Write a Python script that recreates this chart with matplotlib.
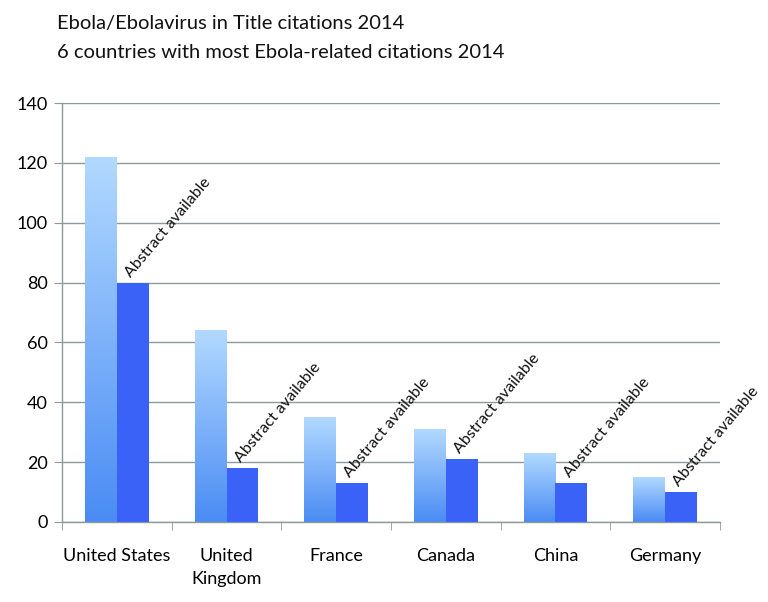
import matplotlib
matplotlib.use("Agg")
import matplotlib.pyplot as plt
import numpy as np
from matplotlib.colors import LinearSegmentedColormap

countries = ["United States", "United\nKingdom", "France", "Canada", "China", "Germany"]
total_citations = [122, 64, 35, 31, 23, 15]
abstract_available = [80, 18, 13, 21, 13, 10]
bar_label = "Abstract available"
title_lines = ["Ebola/Ebolavirus in Title citations 2014",
               "6 countries with most Ebola-related citations 2014"]
yticks = [0, 20, 40, 60, 80, 100, 120, 140]

plt.rcParams['font.family'] = ['Lato', 'DejaVu Sans']

fig = plt.figure(figsize=(7.68, 6.02), dpi=100)
ax = fig.add_axes([62/768, 1-522/602, (720-62)/768, (522-103)/602])

x = np.arange(len(countries))
w = 0.29
grad = LinearSegmentedColormap.from_list("g", ["#4a8cf4", "#b2d9ff"])
light = ax.bar(x - w/2, total_citations, w, color="none", edgecolor="none", zorder=2)
for rect in light:
    x0, y0 = rect.get_x(), rect.get_y()
    h = rect.get_height()
    img = ax.imshow(np.linspace(0, 1, 256).reshape(-1, 1), cmap=grad, aspect="auto",
                    origin="lower", extent=[x0, x0 + rect.get_width(), y0, y0 + h], zorder=2)
    img.set_clip_path(rect)
dark = ax.bar(x + w/2, abstract_available, w, color="#3a62f6", edgecolor="none", zorder=3)

for xi, v in zip(x, abstract_available):
    ax.text(xi + 0.15, v + 1.0, bar_label, rotation=50, rotation_mode="anchor",
            ha="left", va="bottom", fontsize=11.5, color="#111111", zorder=4)

ax.set_xlim(-0.5, len(countries) - 0.5)
ax.set_ylim(0, 140)
ax.set_yticks(yticks)
ax.set_yticklabels([str(t) for t in yticks], fontsize=13)
ax.set_xticks(x)
ax.set_xticklabels(countries, fontsize=13, linespacing=1.5)
ax.set_xticks(np.arange(-0.5, len(countries)), minor=True)
ax.tick_params(axis="x", which="major", length=0, pad=19)
ax.tick_params(axis="x", which="minor", length=6, color="#8c9a9a", direction="out")
ax.tick_params(axis="y", length=6, color="#8c9a9a", direction="out", pad=4)
ax.grid(axis="y", color="#8c9a9a", linewidth=1.0, zorder=0)
ax.set_axisbelow(True)
for s in ["top", "right"]:
    ax.spines[s].set_visible(False)
for s in ["left", "bottom"]:
    ax.spines[s].set_color("#8c9a9a")
    ax.spines[s].set_linewidth(1.0)

fig.text(57/768, 1-23/602, title_lines[0], fontsize=14.5, va="center", ha="left", color="#111111")
fig.text(57/768, 1-52/602, title_lines[1], fontsize=14.5, va="center", ha="left", color="#111111")

fig.savefig("out.png", dpi=100)
